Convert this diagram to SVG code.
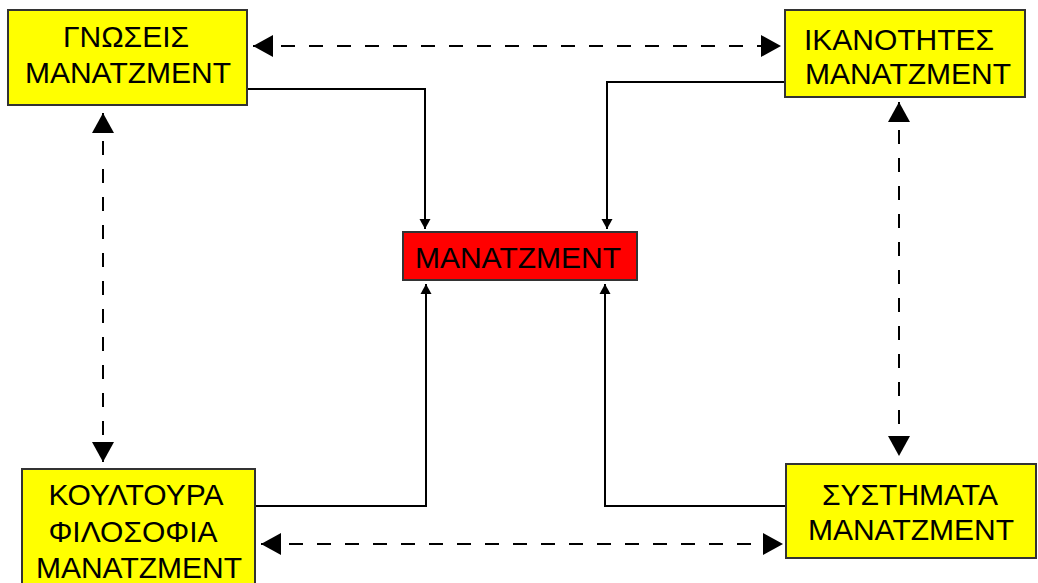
<svg xmlns="http://www.w3.org/2000/svg" width="1038" height="583" viewBox="0 0 1038 583">
<style>
.box{fill:#ffff00;stroke:#333;stroke-width:2}
.core{fill:#ff0000;stroke:#333;stroke-width:2}
text{font-family:"Liberation Sans",Arial,sans-serif;font-size:30px;fill:#000;text-anchor:middle}
.solid{fill:none;stroke:#000;stroke-width:2}
.dash{fill:none;stroke:#000;stroke-width:2;stroke-dasharray:14 14}
</style>
<defs>
<marker id="big" markerUnits="userSpaceOnUse" markerWidth="22" markerHeight="24" refX="20" refY="12" orient="auto-start-reverse">
<path d="M0,1 L20,12 L0,23 z" fill="#000"/>
</marker>
<marker id="small" markerUnits="userSpaceOnUse" markerWidth="12" markerHeight="12" refX="10" refY="6" orient="auto">
<path d="M0,0.5 L10,6 L0,11.5 z" fill="#000"/>
</marker>
</defs>
<rect width="1038" height="583" fill="#fff"/>
<g id="connectors">
<path class="solid" d="M247,89 H425 V229" marker-end="url(#small)"/>
<path class="solid" d="M785,82 H607 V229" marker-end="url(#small)"/>
<path class="solid" d="M255,506 H426 V284" marker-end="url(#small)"/>
<path class="solid" d="M786,506 H605 V284" marker-end="url(#small)"/>
<line class="dash" x1="253" y1="46" x2="781" y2="46" marker-start="url(#big)" marker-end="url(#big)"/>
<line class="dash" x1="261" y1="544" x2="783" y2="544" marker-start="url(#big)" marker-end="url(#big)"/>
<line class="dash" x1="103" y1="113" x2="103" y2="462" marker-start="url(#big)" marker-end="url(#big)"/>
<line class="dash" x1="899" y1="102" x2="899" y2="456" marker-start="url(#big)" marker-end="url(#big)"/>
</g>
<g id="gnoseis">
<rect class="box" x="8" y="10" width="239" height="95"/>
<text x="126" y="47">ΓΝΩΣΕΙΣ</text>
<text x="128" y="83">ΜΑΝΑΤΖΜΕΝΤ</text>
</g>
<g id="ikanotites">
<rect class="box" x="785" y="10" width="240" height="87"/>
<text x="899" y="50">ΙΚΑΝΟΤΗΤΕΣ</text>
<text x="908" y="84">ΜΑΝΑΤΖΜΕΝΤ</text>
</g>
<g id="management">
<rect class="core" x="403" y="232" width="234" height="48"/>
<text x="518" y="268">ΜΑΝΑΤΖΜΕΝΤ</text>
</g>
<g id="koultoura">
<rect class="box" x="22" y="469" width="233" height="125"/>
<text x="136" y="505">ΚΟΥΛΤΟΥΡΑ</text>
<text x="133" y="542">ΦΙΛΟΣΟΦΙΑ</text>
<text x="139" y="578">ΜΑΝΑΤΖΜΕΝΤ</text>
</g>
<g id="systimata">
<rect class="box" x="786" y="464" width="250" height="94"/>
<text x="910" y="505">ΣΥΣΤΗΜΑΤΑ</text>
<text x="911" y="540">ΜΑΝΑΤΖΜΕΝΤ</text>
</g>
</svg>
